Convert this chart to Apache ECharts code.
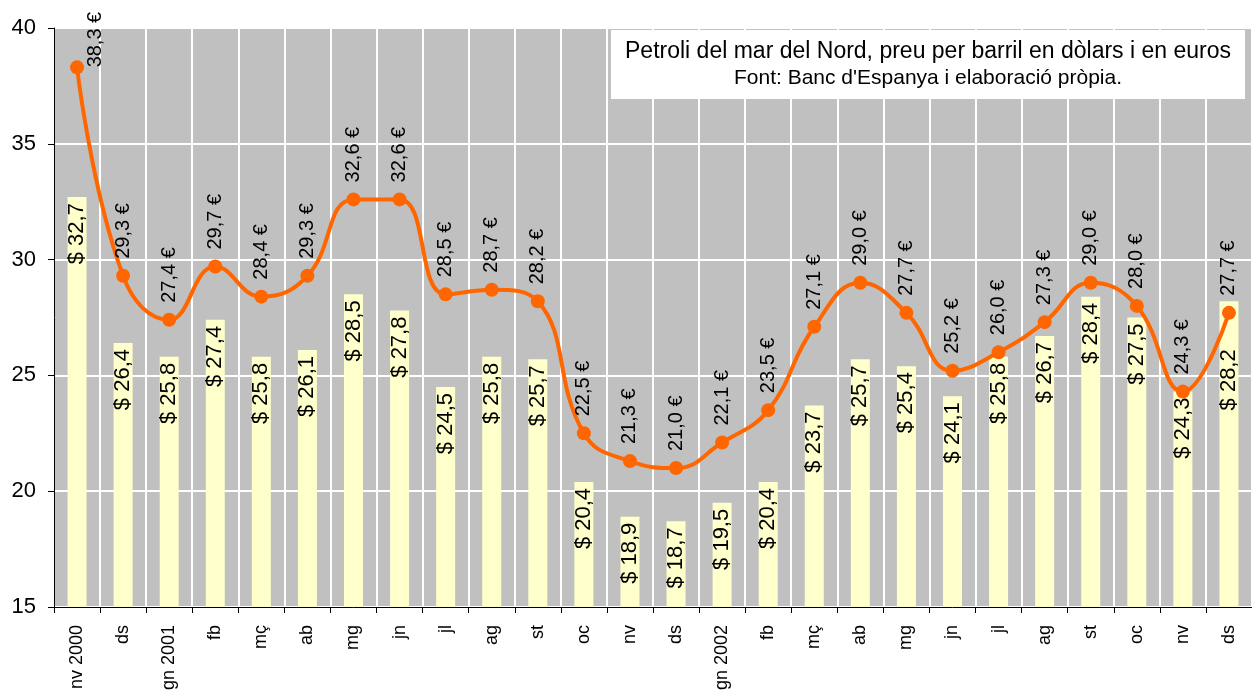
<!DOCTYPE html>
<html>
<head>
<meta charset="utf-8">
<script src="https://cdn.jsdelivr.net/npm/echarts@6/dist/echarts.min.js"></script>
<style>
  html, body { margin: 0; padding: 0; background: #ffffff; }
  #chart { width: 1252px; height: 695px; }
</style>
</head>
<body>
<div id="chart"></div>
<script>
// Petroli del mar del Nord: preu per barril en dòlars (barres) i en euros (línia)
const MONTHS = [
  'nv 2000', 'ds', 'gn 2001', 'fb', 'mç', 'ab', 'mg', 'jn', 'jl', 'ag', 'st', 'oc', 'nv',
  'ds', 'gn 2002', 'fb', 'mç', 'ab', 'mg', 'jn', 'jl', 'ag', 'st', 'oc', 'nv', 'ds',
];
const DOLLARS = [
  32.7, 26.4, 25.8, 27.4, 25.8, 26.1, 28.5, 27.8, 24.5, 25.8, 25.7, 20.4, 18.9,
  18.7, 19.5, 20.4, 23.7, 25.7, 25.4, 24.1, 25.8, 26.7, 28.4, 27.5, 24.3, 28.2,
];
const EUROS = [
  38.3, 29.3, 27.4, 29.7, 28.4, 29.3, 32.6, 32.6, 28.5, 28.7, 28.2, 22.5, 21.3,
  21.0, 22.1, 23.5, 27.1, 29.0, 27.7, 25.2, 26.0, 27.3, 29.0, 28.0, 24.3, 27.7,
];
const Y_MIN = 15;
const Y_MAX = 40;
const Y_STEP = 5;

const FONT = '"Liberation Sans", Arial, sans-serif';
const fmt = (v) => v.toFixed(1).replace('.', ',');
const last = DOLLARS.length - 1;

// l'última etiqueta de dòlars baixa per no tapar el punt de la línia
const dollarData = DOLLARS.map((v, i) =>
  i === last ? { value: v, label: { distance: 48 } } : v);

const euroData = EUROS.map((v, i) => {
  if (i === 0) {
    // el primer valor no hi cap a sobre: l'etiqueta va a la dreta
    return { value: v, label: { position: 'right', distance: 11 } };
  }
  return v;
});

const chart = echarts.init(document.getElementById('chart'));
chart.setOption({
  animation: false,
  textStyle: { fontFamily: FONT },
  grid: {
    left: 54, right: 0, top: 28, bottom: 88,
    show: true, backgroundColor: '#c0c0c0', borderWidth: 0,
  },
  graphic: [{
    type: 'rect',
    z: 5,
    shape: { x: 611, y: 30, width: 634, height: 69 },
    style: { fill: '#ffffff' },
  }],
  title: {
    z: 6,
    text: 'Petroli del mar del Nord, preu per barril en dòlars i en euros',
    subtext: "Font: Banc d'Espanya i elaboració pròpia.",
    left: 928, top: 40, textAlign: 'center',
    padding: 0, itemGap: 5,
    textStyle: { fontFamily: FONT, fontSize: 23, fontWeight: 'normal', color: '#000' },
    subtextStyle: { fontFamily: FONT, fontSize: 21, color: '#000' },
  },
  xAxis: {
    type: 'category',
    data: MONTHS,
    boundaryGap: true,
    axisLine: { lineStyle: { color: '#000', width: 1 } },
    axisTick: { show: true, length: 6, lineStyle: { color: '#000' } },
    axisLabel: {
      rotate: 90, interval: 0, margin: 18,
      fontFamily: FONT, fontSize: 18, color: '#000',
    },
    splitLine: { show: true, lineStyle: { color: '#ffffff', width: 2 } },
  },
  yAxis: {
    type: 'value',
    min: Y_MIN, max: Y_MAX, interval: Y_STEP,
    axisLine: { show: true, lineStyle: { color: '#000', width: 1 } },
    axisTick: { show: true, length: 6, lineStyle: { color: '#000' } },
    axisLabel: { margin: 18, fontFamily: FONT, fontSize: 22, color: '#000' },
    splitLine: { show: true, lineStyle: { color: '#ffffff', width: 2 } },
  },
  series: [{
    name: 'dòlars',
    type: 'bar',
    data: dollarData,
    barWidth: 19,
    itemStyle: { color: '#ffffcc' },
    label: {
      show: true,
      position: 'insideTop',
      distance: 6,
      rotate: 90,
      align: 'right',
      verticalAlign: 'middle',
      fontFamily: FONT, fontSize: 22, color: '#000',
      formatter: (p) => '$ ' + fmt(p.value),
    },
  }, {
    name: 'euros',
    type: 'line',
    data: euroData,
    smooth: 0.45,
    symbol: 'circle',
    symbolSize: 14,
    lineStyle: { color: '#ff6600', width: 4 },
    itemStyle: { color: '#ff6600' },
    label: {
      show: true,
      position: 'top',
      distance: 10,
      rotate: 90,
      align: 'left',
      verticalAlign: 'middle',
      fontFamily: FONT, fontSize: 20, color: '#000',
      formatter: (p) => fmt(p.value) + ' €',
    },
  }],
});
</script>
</body>
</html>
